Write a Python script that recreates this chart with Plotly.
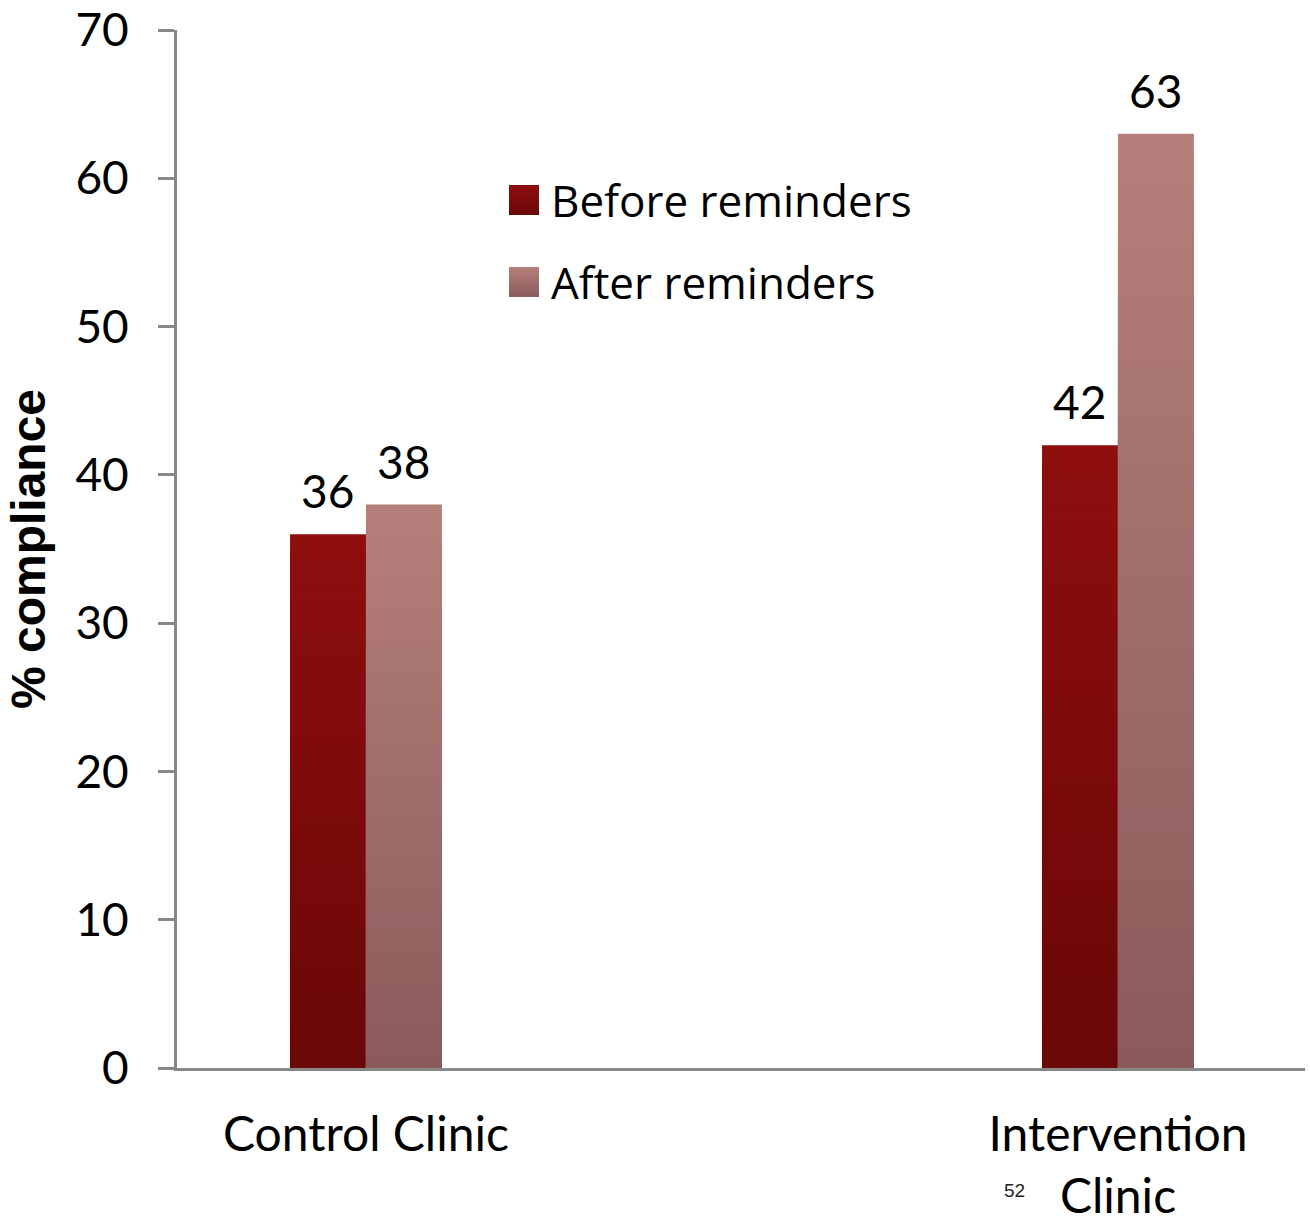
import plotly.graph_objects as go

# Compliance data
clinics = ["Control Clinic", "Intervention<br>Clinic"]
before = [36, 42]
after = [38, 63]
series_names = ["Before reminders", "After reminders"]

# Vertical gradient endpoints (bottom colour, top colour) for each series
grad_before = ((0x6a, 0x07, 0x07), (0x8f, 0x0e, 0x0e))
grad_after = ((0x8a, 0x5b, 0x5b), (0xb6, 0x7f, 0x7c))

FONT = "Lato"
N_STEPS = 40

W, H = 1310, 1225
M_L, M_R, M_T, M_B = 177, 5, 30, 157
PW, PH = W - M_L - M_R, H - M_T - M_B


def mix(c0, c1, t):
    r, g, b = (round(a + (b_ - a) * t) for a, b_ in zip(c0, c1))
    return f"rgb({r},{g},{b})"


fig = go.Figure()


def add_gradient_bars(vals, grad, group):
    # Tallest bar first in the top colour, then progressively shorter,
    # darker bars drawn over it, giving a bottom-to-top gradient.
    for k in range(N_STEPS):
        frac = (N_STEPS - k) / N_STEPS
        t = (N_STEPS - k - 0.5) / N_STEPS
        fig.add_trace(go.Bar(
            x=clinics,
            y=[v * frac for v in vals],
            offsetgroup=group,
            marker=dict(color=mix(grad[0], grad[1], t), line=dict(width=0)),
            showlegend=False,
            hoverinfo="skip",
        ))


add_gradient_bars(before, grad_before, "before")
add_gradient_bars(after, grad_after, "after")

# Value labels above each bar
annotations = []
for vals, xshift in ((before, -38), (after, 38)):
    for cat, v in zip(clinics, vals):
        annotations.append(dict(
            x=cat, y=v, xref="x", yref="y", text=str(v), showarrow=False,
            xshift=xshift, yanchor="bottom", yshift=14,
            font=dict(family=FONT, size=46, color="black"),
        ))


def px_x(px):
    return (px - M_L) / PW


def px_y(py):
    return (M_T + PH - py) / PH


# Legend drawn as gradient squares with text
shapes = []
for (grad, name, top) in ((grad_before, series_names[0], 185),
                          (grad_after, series_names[1], 267)):
    size = 30
    n = 15
    for i in range(n):
        # full-width rects from the bottom up to a shrinking height
        h = size * (n - i) / n
        shapes.append(dict(
            type="rect", xref="paper", yref="paper",
            x0=px_x(509), x1=px_x(539),
            y0=px_y(top + size), y1=px_y(top + size - h),
            fillcolor=mix(grad[0], grad[1], (n - i - 0.5) / n),
            line=dict(width=0), layer="above",
        ))
    annotations.append(dict(
        x=px_x(549), y=px_y(top + size / 2), xref="paper", yref="paper",
        text=name, showarrow=False, xanchor="left", yanchor="middle",
        font=dict(family="Open Sans", size=44, color="black"),
    ))

# Slide number
annotations.append(dict(
    x=px_x(1014), y=px_y(1190), xref="paper", yref="paper", text="52",
    showarrow=False, xanchor="center", yanchor="middle",
    font=dict(family="Liberation Sans", size=19, color="#222222"),
))

fig.update_layout(
    width=W, height=H,
    margin=dict(l=M_L, r=M_R, t=M_T, b=M_B, autoexpand=False),
    paper_bgcolor="white", plot_bgcolor="white",
    barmode="group", bargap=0.798, bargroupgap=0,
    showlegend=False,
    annotations=annotations, shapes=shapes,
    font=dict(family=FONT, color="black"),
)

fig.update_xaxes(
    type="category", range=[-0.2513, 1.2487], automargin=False,
    showline=True, linecolor="#878787", linewidth=3,
    ticks="", showgrid=False, zeroline=False,
    tickfont=dict(family=FONT, size=48, color="black"),
    ticklabelstandoff=22,
)

fig.update_yaxes(
    range=[0, 70], dtick=10, tick0=0, automargin=False,
    showline=True, linecolor="#878787", linewidth=3,
    ticks="outside", ticklen=16, tickwidth=3, tickcolor="#878787",
    showgrid=False, zeroline=False,
    tickfont=dict(family=FONT, size=46, color="black"),
    ticklabelstandoff=20,
    title=dict(text="<b>% compliance</b>", standoff=15,
               font=dict(family="Liberation Sans", size=48, color="black")),
)

fig.write_html("out.html")
